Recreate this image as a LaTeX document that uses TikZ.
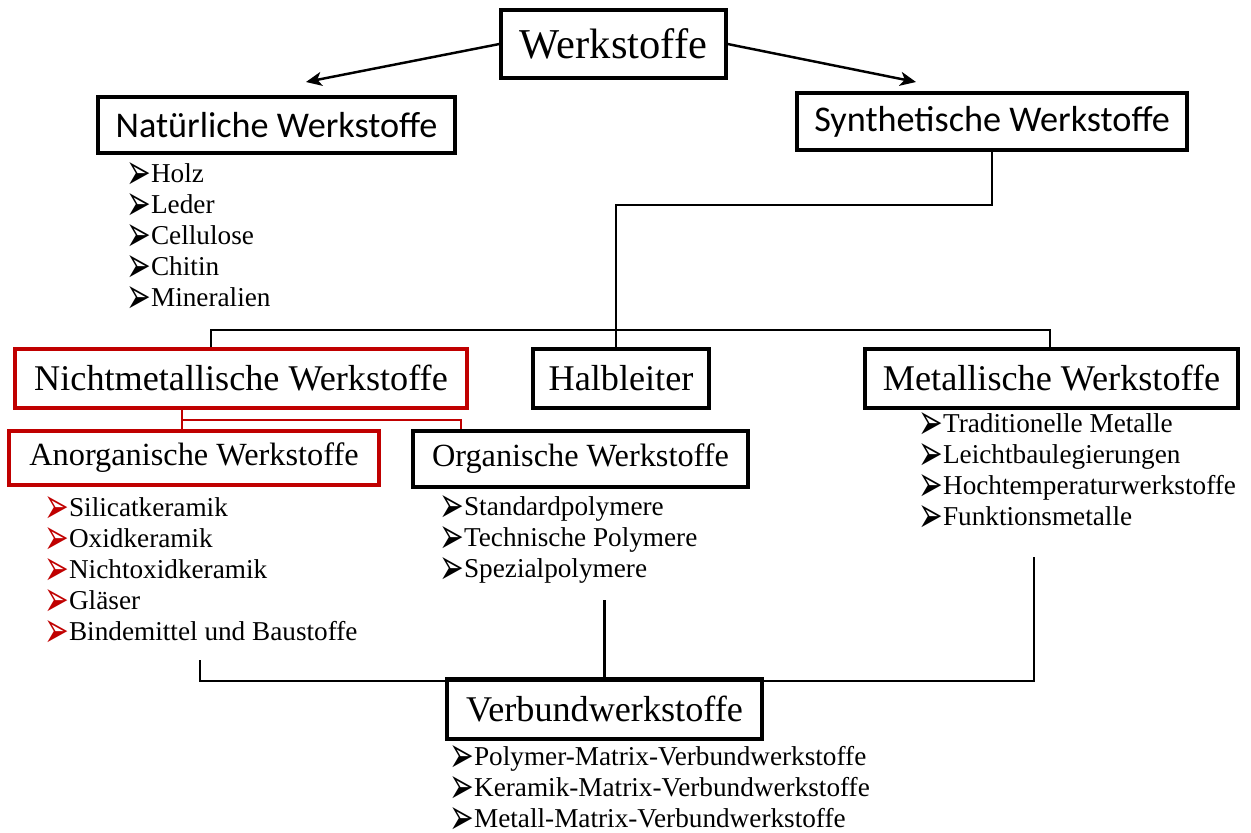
\documentclass[tikz,border=0pt]{standalone}
\usepackage{fontspec}
\setmainfont{Liberation Serif}
\newfontfamily\calfont{Carlito}
\newfontfamily\bulfont{DejaVu Sans}
\usetikzlibrary{arrows.meta}
\definecolor{dred}{RGB}{192,0,0}
\newcommand{\itm}[2][black]{\strut\smash{\raisebox{-4pt}{\color{#1}\scalebox{1.05}[1.8]{\bulfont\fontsize{16pt}{16pt}\selectfont ➢}}}#2}
\tikzset{box/.style={draw=black,line width=1.8pt,inner sep=0pt},
  redbox/.style={box,draw=dred},
  lst/.style={anchor=north west,align=left,inner sep=0pt,font=\fontsize{15.5pt}{17.7pt}\selectfont},
  arw/.style={line width=1.4pt,-{Stealth[length=9pt,width=8pt,inset=2.5pt]}},
  lnk/.style={line width=1.4pt}}
\begin{document}
\begin{tikzpicture}[x=0.02cm,y=-0.02cm]
    \useasboundingbox (0,0) rectangle (1251,832);

    \node[box,minimum width=4.5cm,minimum height=1.36cm,font=\fontsize{24.2pt}{28pt}\selectfont] (top) at (613.5,44) {Werkstoffe};
    \node[box,minimum width=7.14cm,minimum height=1.12cm,font=\calfont\fontsize{20.6pt}{24pt}\selectfont] (nat) at (276.5,125) {Natürliche Werkstoffe};
    \node[box,minimum width=7.8cm,minimum height=1.14cm,font=\calfont\fontsize{20.6pt}{24pt}\selectfont] (syn) at (992,121.5) {Synthetische Werkstoffe};
    \node[redbox,minimum width=9.04cm,minimum height=1.18cm,font=\fontsize{20.6pt}{24pt}\selectfont] (nimet) at (241,378.5) {Nichtmetallische Werkstoffe};
    \node[box,minimum width=3.52cm,minimum height=1.18cm,font=\fontsize{20.6pt}{24pt}\selectfont] (halb) at (621,378.5) {Halbleiter};
    \node[box,minimum width=7.46cm,minimum height=1.18cm,font=\fontsize{20.6pt}{24pt}\selectfont] (met) at (1051.5,378.5) {Metallische Werkstoffe};
    \node[redbox,minimum width=7.4cm,minimum height=1.08cm,font=\fontsize{18.4pt}{22pt}\selectfont] (anorg) at (194,458) {Anorganische Werkstoffe};
    \node[box,minimum width=6.7cm,minimum height=1.12cm,font=\fontsize{18.4pt}{22pt}\selectfont] (org) at (580.5,459) {Organische Werkstoffe};
    \node[box,minimum width=6.3cm,minimum height=1.2cm,font=\fontsize{20.6pt}{24pt}\selectfont] (verb) at (604.5,709) {Verbundwerkstoffe};

    % lists
    \node[lst] (natl) at (126,160) {\itm{Holz}\\\itm{Leder}\\\itm{Cellulose}\\\itm{Chitin}\\\itm{Mineralien}};
    \node[lst] (anorgl) at (44,494) {\itm[dred]{Silicatkeramik}\\\itm[dred]{Oxidkeramik}\\\itm[dred]{Nichtoxidkeramik}\\\itm[dred]{Gläser}\\\itm[dred]{Bindemittel und Baustoffe}};
    \node[lst] (orgl) at (439,493) {\itm{Standardpolymere}\\\itm{Technische Polymere}\\\itm{Spezialpolymere}};
    \node[lst] (metl) at (918,410) {\itm{Traditionelle Metalle}\\\itm{Leichtbaulegierungen}\\\itm{Hochtemperaturwerkstoffe}\\\itm{Funktionsmetalle}};
    \node[lst] (verbl) at (449,743) {\itm{Polymer-Matrix-Verbundwerkstoffe}\\\itm{Keramik-Matrix-Verbundwerkstoffe}\\\itm{Metall-Matrix-Verbundwerkstoffe}};

    \coordinate (a1) at (306,82);
    \coordinate (a2) at (916,82);
    \coordinate (j1) at (616,205);
    \coordinate (bl) at (211,330);
    \coordinate (br) at (1050,330);
    \coordinate (r1) at (182,420);
    \coordinate (r2) at (461,420);
    \coordinate (e1) at (200,660);
    \coordinate (e2) at (604.5,600);
    \coordinate (e3) at (1034,557);
    \coordinate (bb) at (0,681);

    \draw[arw] (top.west) -- (a1);
    \draw[arw] (top.east) -- (a2);
    \draw[lnk] (syn.south) |- (j1) -- (j1 |- halb.north);
    \draw[lnk] (bl |- nimet.north) -- (bl) -- (br) -- (br |- met.north);
    \draw[lnk,dred] (r1 |- nimet.south) -- (r1 |- anorg.north);
    \draw[lnk,dred] (r1) -- (r2) -- (r2 |- org.north);
    \draw[lnk] (e1) -- (e1 |- bb) -- (e3 |- bb) -- (e3);
    \draw[lnk] (e2) -- (verb.north);
\end{tikzpicture}
\end{document}
